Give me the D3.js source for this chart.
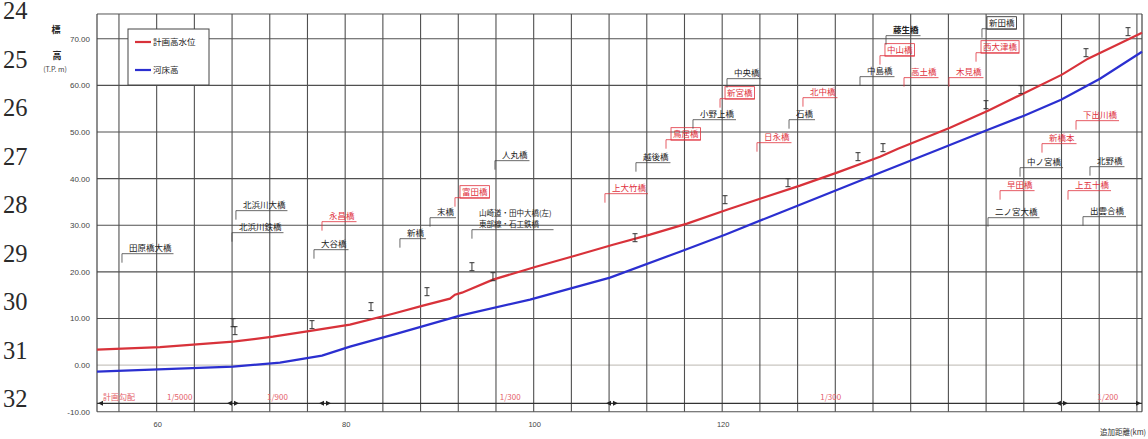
<!DOCTYPE html>
<html><head><meta charset="utf-8">
<script src="https://cdn.jsdelivr.net/npm/d3@7"></script>
<style>body{margin:0;background:#fff;overflow:hidden}svg{display:block}</style>
</head><body><svg id="c" width="1148" height="439"></svg>
<script>
// ---- data ----
const lineNumbers = [24,25,26,27,28,29,30,31,32,33];
const yTicks = [-10,0,10,20,30,40,50,60,70];
const xTickValues = [60,80,100,120];
const xTickLabels = ["60","80","100","120"];

// 計画高水位 (planned high water level)
const hwlKm  = [53.67,60.35,68.10,72.34,76.48,80.51,85.07,88.25,91.12,91.65,92.39,95.68,100.24,104.38,108.41,112.34,116.27,120.51,124.33,128.25,132.18,136.74,138.65,144.17,148.20,151.70,156.05,158.81,161.68,164.54];
const hwlVal = [3.30,3.84,5.02,6.09,7.38,8.67,11.02,12.74,14.24,15.10,15.53,18.32,21.10,23.46,25.82,27.97,30.33,33.33,35.90,38.48,41.27,44.70,46.41,50.91,54.56,58.00,62.29,65.72,68.50,71.29];
// 河床高 (river bed)
const bedKm  = [53.67,68.10,73.08,77.54,80.51,85.50,92.18,99.61,108.10,115.52,120.30,126.13,131.44,136.74,142.90,148.20,152.02,155.95,160.08,164.54];
const bedVal = [-1.42,-0.34,0.51,2.02,3.95,6.74,10.60,14.03,18.75,24.32,27.97,32.69,36.98,41.27,46.20,50.49,53.49,56.92,61.42,67.21];

// observed marks (痕跡)
const markKm  = [68.10,68.31,76.48,82.74,88.68,93.45,95.68,110.75,120.30,126.98,134.41,137.06,147.99,151.70,158.60,163.06];
const markVal = [9.09,7.38,8.67,12.53,15.74,21.10,18.96,27.32,35.47,39.12,44.70,46.63,55.85,59.07,67.00,71.51];

// bridges: name, km, level of leader line, kind (0 = black, 1 = red), boxed
const bridgeNames = ["田原橋大橋","北浜川大橋","北浜川鉄橋","永昌橋","大谷橋","新橋","末橋","富田橋","人丸橋","上大竹橋","越後橋","鳥居橋","小野上橋","新宮橋","中央橋","日永橋","石橋","北中橋","中島橋","中山橋","藤生橋","高土橋","木見橋","西大津橋","新田橋","下出川橋","新橋本","中ノ宮橋","北野橋","早田橋","上五十橋","二ノ宮大橋","出雲合橋"];
const bridgeKm    = [56.32,68.41,67.99,77.54,76.69,85.81,89.00,91.65,95.89,107.56,110.85,114.04,116.90,119.77,120.51,123.69,127.09,128.57,134.62,136.74,137.38,139.29,144.06,146.93,147.56,157.54,153.93,151.60,159.02,149.48,156.69,148.20,158.28];
const bridgeLevel = [23.89,33.12,28.40,30.76,24.75,27.11,31.61,35.90,43.84,36.76,43.41,48.34,52.63,57.14,61.43,47.70,52.63,57.35,61.86,66.36,70.65,61.65,61.65,67.00,72.14,52.42,47.49,42.34,42.55,37.41,37.41,31.61,31.83];
const bridgeKind  = [0,0,0,1,0,0,0,1,0,1,0,1,0,1,0,1,0,1,0,1,0,1,1,1,0,1,1,0,0,1,1,0,0];
const bridgeBoxed = [0,0,0,0,0,0,0,1,0,0,0,1,0,1,0,0,0,0,0,1,0,0,0,1,1,0,0,0,0,0,0,0,0];
const twoLineKm = 93.45, twoLineLevel = 29.04;
const twoLineText = ["山崎道・田中大橋(左)","東部線・石工鉄橋"];

// slope sections (河床勾配)
const sectionBreaks = [68.10,77.86,108.31,156.05];
const slopeLabels = ["計画勾配","1/5000","1/900","1/300","1/300","1/200"];
const slopeLabelKm = [54.3,61.1,71.7,96.4,130.4,159.8];

const seriesNames = ["計画高水位","河床高"];

// ---- drawing ----
const svg = d3.select("#c");
const CJK = "'Noto Sans CJK JP','Noto Sans',sans-serif";
const RED = "#d8323a", BLUE = "#2b2fd0", RTXT = "#e0323e";

const xMin = 53.67, xMax = 164.54, yTop = 75.3;
const x = d3.scaleLinear().domain([xMin, xMax]).range([97, 1142]);
const y = d3.scaleLinear().domain([-10, 70]).range([411.7, 38.7]);

// line numbers (document margin)
const ln = d3.scaleLinear().domain([0,1]).range([19, 67.5]);
svg.selectAll("text.ln").data(lineNumbers).join("text")
  .attr("x", 3).attr("y", (d,i)=>ln(i))
  .attr("font-family","'Liberation Serif','DejaVu Serif',serif")
  .attr("font-size",24.5).attr("fill","#2a2a2a").text(d=>d);

const g = svg.append("g");

// horizontal grid
g.selectAll("line.hg").data(yTicks).join("line")
  .attr("x1", x(xMin)).attr("x2", x(xMax))
  .attr("y1", d=>y(d)).attr("y2", d=>y(d))
  .attr("stroke", d=> d===0 ? "#c9c6c0" : "#505050")
  .attr("stroke-width", d=> d===0 ? 1.2 : 1.1);
// top frame
g.append("line").attr("x1",x(xMin)).attr("x2",x(xMax)).attr("y1",y(yTop)).attr("y2",y(yTop)).attr("stroke","#555");

// vertical grid
const vg = d3.range(56, 165, 4);
g.selectAll("line.vg").data(vg).join("line")
  .attr("x1", d=>x(d)).attr("x2", d=>x(d))
  .attr("y1", y(yTop)).attr("y2", y(-10))
  .attr("stroke","#505050").attr("stroke-width",1.1);
[xMin, xMax].forEach(v => g.append("line").attr("x1",x(v)).attr("x2",x(v)).attr("y1",y(yTop)).attr("y2",y(-10)).attr("stroke","#444").attr("stroke-width",1.2));

// y tick labels
g.selectAll("text.yt").data(yTicks).join("text")
  .attr("x", 90).attr("y", d=>y(d)+3).attr("text-anchor","end")
  .attr("font-family","Arial,'Liberation Sans',sans-serif").attr("font-size",8)
  .attr("fill","#444").text(d=>d.toFixed(2));
// y title
g.append("text").attr("x",56).attr("y",33).attr("text-anchor","middle").attr("font-family",CJK).attr("font-size",9).attr("font-weight","bold").attr("fill","#222").text("標");
g.append("text").attr("x",57).attr("y",59).attr("text-anchor","middle").attr("font-family",CJK).attr("font-size",9).attr("font-weight","bold").attr("fill","#222").text("高");
g.append("text").attr("x",55).attr("y",72).attr("text-anchor","middle").attr("font-family",CJK).attr("font-size",7).attr("fill","#444").text("(T.P. m)");

// x tick labels
g.selectAll("text.xt").data(xTickValues).join("text")
  .attr("x", d=>x(d)+1).attr("y", 427).attr("text-anchor","middle")
  .attr("font-family","Arial,'Liberation Sans',sans-serif").attr("font-size",7.5)
  .attr("fill","#444").text((d,i)=>xTickLabels[i]);
g.append("text").attr("x",1100).attr("y",435).attr("font-family",CJK).attr("font-size",7.5).attr("fill","#333").text("追加距離(km)");

// dimension line with section breaks
const dimV = -8.2;
g.append("line").attr("x1",x(xMin)).attr("x2",x(xMax)).attr("y1",y(dimV)).attr("y2",y(dimV)).attr("stroke","#333").attr("stroke-width",1.2);
const dy = y(dimV);
sectionBreaks.forEach(k => {
  const px = x(k);
  g.append("path").attr("d",`M${px-6},${dy}L${px-1},${dy-2.5}L${px-1},${dy+2.5}Z M${px+6},${dy}L${px+1},${dy-2.5}L${px+1},${dy+2.5}Z`).attr("fill","#222");
});
g.append("path").attr("d",`M${x(xMin)+1},${dy}L${x(xMin)+6},${dy-2.5}L${x(xMin)+6},${dy+2.5}Z`).attr("fill","#222");
g.append("path").attr("d",`M${x(xMax)-1},${dy}L${x(xMax)-6},${dy-2.5}L${x(xMax)-6},${dy+2.5}Z`).attr("fill","#222");
g.selectAll("text.sl").data(slopeLabels).join("text")
  .attr("x",(d,i)=>x(slopeLabelKm[i])).attr("y",dy-3)
  .attr("font-family",CJK).attr("font-size",8).attr("fill","#e4606a").text(d=>d);

// series lines
const line = d3.line().x(d=>x(d[0])).y(d=>y(d[1]));
g.append("path").datum(bedKm.map((k,i)=>[k,bedVal[i]])).attr("d",line).attr("fill","none").attr("stroke",BLUE).attr("stroke-width",2.2);
g.append("path").datum(hwlKm.map((k,i)=>[k,hwlVal[i]])).attr("d",line).attr("fill","none").attr("stroke",RED).attr("stroke-width",2.2);

// marks
markKm.forEach((k,i)=>{
  const px = x(k), py = y(markVal[i]);
  g.append("path").attr("d",`M${px-2.5},${py-4}H${px+2.5}M${px},${py-4}V${py+4}M${px-2.5},${py+4}H${px+2.5}`)
   .attr("stroke","#333").attr("stroke-width",1).attr("fill","none");
});

// bridge labels
function label(px, py, lines, color, boxed, bold, fs){
  const tx = px + 7;
  let maxW = 0;
  lines.forEach((t,j)=>{
    const te = g.append("text").attr("x",tx).attr("y",py - 2.5 - (lines.length-1-j)*11)
      .attr("font-family",CJK).attr("font-size",fs).attr("fill",color)
      .attr("font-weight",bold?"bold":"normal").text(t);
    const w = te.node().getComputedTextLength();
    if (w>maxW) maxW=w;
    if (boxed) g.append("rect").attr("x",tx-2).attr("y",py-2.5-fs-1).attr("width",w+4).attr("height",fs+4)
      .attr("fill","none").attr("stroke",color).attr("stroke-width",0.8);
  });
  g.append("path").attr("d",`M${px},${py+9}V${py}H${tx+maxW+2}`).attr("fill","none").attr("stroke",color==="#222"?"#444":color).attr("stroke-width",0.8);
}
bridgeNames.forEach((n,i)=>{
  const col = bridgeKind[i] ? RTXT : "#222";
  label(x(bridgeKm[i]), y(bridgeLevel[i]), [n], col, bridgeBoxed[i], n==="藤生橋", 8.5);
});
label(x(twoLineKm), y(twoLineLevel), twoLineText, "#222", 0, false, 7.5);

// legend
const lg = g.append("g");
lg.append("rect").attr("x",128).attr("y",29).attr("width",81).attr("height",56).attr("fill","#fff").attr("stroke","#444").attr("stroke-width",1);
[RED, BLUE].forEach((c,i)=>{
  const ly = 42 + i*28;
  lg.append("line").attr("x1",135).attr("x2",151).attr("y1",ly).attr("y2",ly).attr("stroke",c).attr("stroke-width",2.2);
  lg.append("text").attr("x",153).attr("y",ly+3).attr("font-family",CJK).attr("font-size",8.5).attr("fill","#222").text(seriesNames[i]);
});
</script></body></html>
